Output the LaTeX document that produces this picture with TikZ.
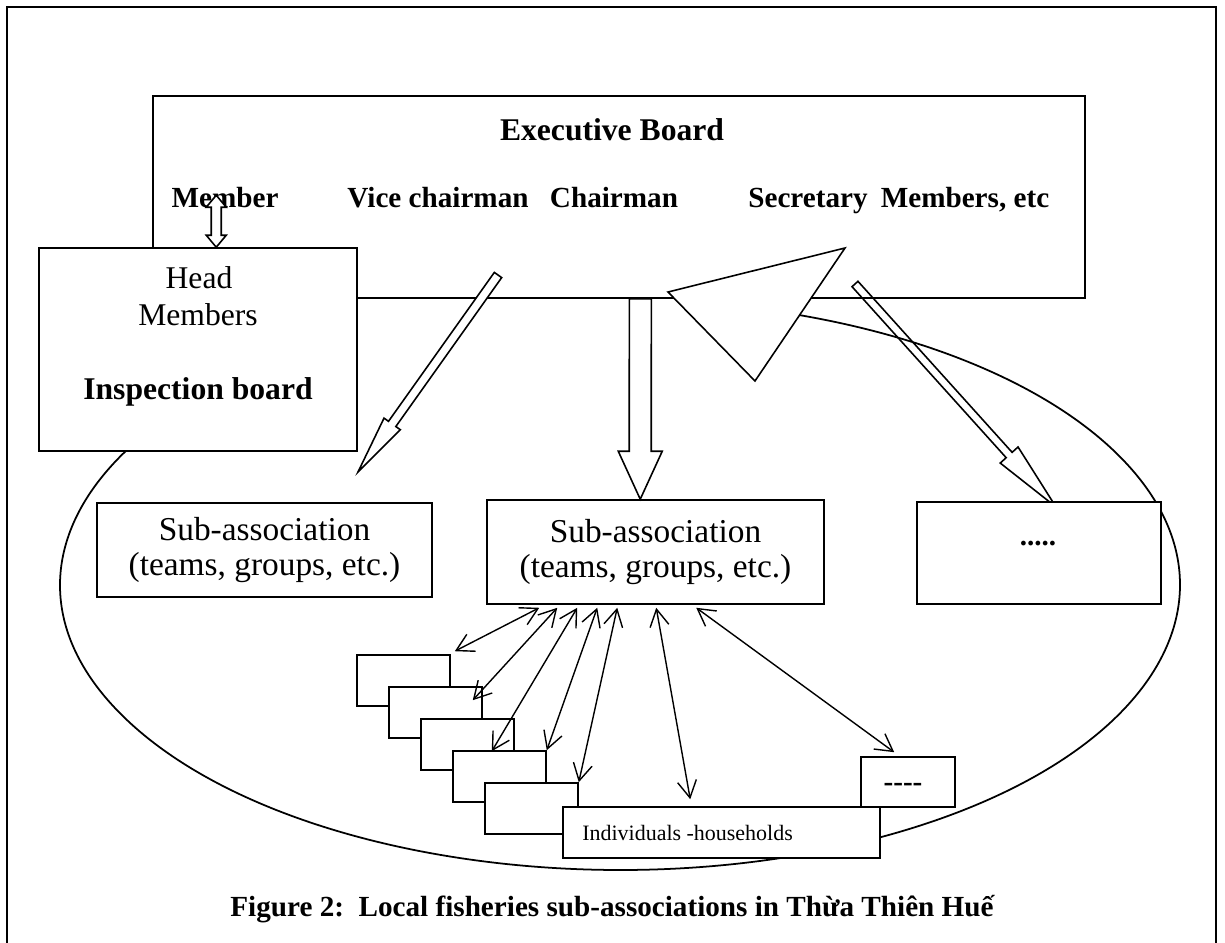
\documentclass[tikz,border=0pt]{standalone}
\usepackage{fontspec}
\setmainfont{Liberation Serif}
\usetikzlibrary{calc}
\usetikzlibrary{arrows.meta}

\tikzset{
  box/.style={draw, fill=white, line width=0.9pt, inner sep=0pt},
  lbl/.style={font=\fontsize{16.6}{19}\selectfont\bfseries, inner sep=0pt},
  txt/.style={font=\fontsize{18}{21}\selectfont, inner sep=0pt},
  link/.style={line width=0.8pt, {Straight Barb[length=3.4mm,width=3.8mm]}-{Straight Barb[length=3.4mm,width=3.8mm]}},
  hollow/.style={draw, fill=white, line width=0.9pt, line join=miter},
}

% block arrow from #2 to #3, shaft half width #4, head half width #5, head length #6
\newcommand{\blockarrow}[6][hollow]{%
  \coordinate (ba-h) at ($(#3)!#6!(#2)$);
  \path[#1] ($(#2)!#4!90:(#3)$) -- ($(ba-h)!#4!90:(#3)$) -- ($(ba-h)!#5!90:(#3)$) -- (#3)
    -- ($(ba-h)!#5!-90:(#3)$) -- ($(ba-h)!#4!-90:(#3)$) -- ($(#2)!#4!-90:(#3)$) -- cycle;
}

\begin{document}
\begin{tikzpicture}[x=0.02cm, y=-0.02cm]

\useasboundingbox (0,0) rectangle (1225,943);
\draw[line width=1.1pt] (7,943) -- (7,7) -- (1216,7) -- (1216,943);

% the association
\coordinate (ell) at (620,585);
\draw[line width=1pt] (ell) ++(118:11.2cm and 5.7cm)
  arc[start angle=118, end angle=437.6, x radius=11.2cm, y radius=5.7cm];

\node[box, minimum width=18.64cm, minimum height=4.04cm] (exec) at (619,197) {};
\node[lbl, font=\fontsize{18}{21}\selectfont\bfseries, anchor=base] (eb) at (612,140) {Executive Board};
\node[lbl, anchor=base] (member) at (225,207) {Member};
\node[lbl, anchor=base] (vice) at (438,207) {Vice chairman};
\node[lbl, anchor=base] (chair) at (614,207) {Chairman};
\node[lbl, anchor=base] (secr) at (808,207) {Secretary};
\node[lbl, anchor=base] (others) at (965,207) {Members, etc};

% right arrow, not filled
\coordinate (ra1) at (855,284);
\coordinate (ra2) at (1056,507);
\blockarrow[draw, line width=0.9pt]{ra1}{ra2}{0.08cm}{0.24cm}{1.4cm}

\draw[hollow] (668,292) -- (845,248) -- (755,381) -- cycle;

\node[box, minimum width=6.36cm, minimum height=4.06cm] (insp) at (198,349.5) {};
\node[txt, anchor=base] (head) at (199,288) {Head};
\node[txt, anchor=base] (hmem) at (198,325) {Members};
\node[txt, font=\fontsize{18}{21}\selectfont\bfseries, anchor=base] (ib) at (198,399) {Inspection board};

% member <-> inspection board
\coordinate (mb) at ($(insp.north west)+(178,0)$);
\draw[hollow] (mb) -- ++(10,-12) -- ++(-5,0) -- ++(0,-28) -- ++(5,0) -- ++(-10,-12)
  -- ++(-10,12) -- ++(5,0) -- ++(0,28) -- ++(-5,0) -- cycle;

\node[box, minimum width=6.7cm, minimum height=1.88cm, txt, font=\fontsize{19}{20}\selectfont, align=center] (sub1) at (264.5,550) {Sub-association\\(teams, groups, etc.)};
\node[box, minimum width=6.74cm, minimum height=2.08cm, txt, font=\fontsize{19}{20}\selectfont, align=center] (sub2) at (655.5,552) {Sub-association\\(teams, groups, etc.)};
\node[box, minimum width=4.88cm, minimum height=2.04cm] (sub3) at (1039,553) {};
\node[lbl] (dots) at (1038,544) {.....};

% vice chairman and chairman arrows
\coordinate (va1) at (498,275);
\coordinate (va2) at (358,472);
\blockarrow{va1}{va2}{0.09cm}{0.2cm}{1.18cm}
\coordinate (ca1) at ($(exec.south west)+(488,0)$);
\coordinate (ca2) at ($(sub2.north west)+(154,0)$);
\blockarrow{ca1}{ca2}{0.22cm}{0.44cm}{0.96cm}

% households
\foreach \i in {1,...,5}
  \node[box, minimum width=1.86cm, minimum height=1.02cm] (hh\i) at ({403.5+32*(\i-1)},{680.5+32*(\i-1)}) {};
\node[box, minimum width=6.34cm, minimum height=1.02cm] (indiv) at (721.5,832.5) {};
\node[txt, font=\fontsize{12.5}{14}\selectfont, anchor=west] (indt) at (582,833) {Individuals -households};
\node[box, minimum width=1.88cm, minimum height=1cm] (more) at (908,782) {};
\node[lbl] (dash) at (903,787) {-{}-{}-{}-};

\draw[link] ($(sub2.south west)+(53,3)$) -- ($(hh1.north east)+(4,-3)$);
\draw[link] ($(sub2.south west)+(71,3)$) -- ($(hh2.north east)+(-10,14)$);
\draw[link] ($(sub2.south west)+(91,3)$) -- ($(hh3.north east)+(-23,33)$);
\draw[link] ($(sub2.south west)+(111,3)$) -- (hh4.north east);
\draw[link] ($(sub2.south west)+(131,3)$) -- (hh5.north east);
\draw[link] ($(sub2.south west)+(170,3)$) -- ($(indiv.north west)+(128,-7)$);
\draw[link] ($(sub2.south west)+(210,3)$) -- ($(more.north west)+(34,-4)$);

\node[lbl] (caption) at (612,909) {Figure 2:\ \ Local fisheries sub-associations in Thừa Thiên Huế};

\end{tikzpicture}
\end{document}
